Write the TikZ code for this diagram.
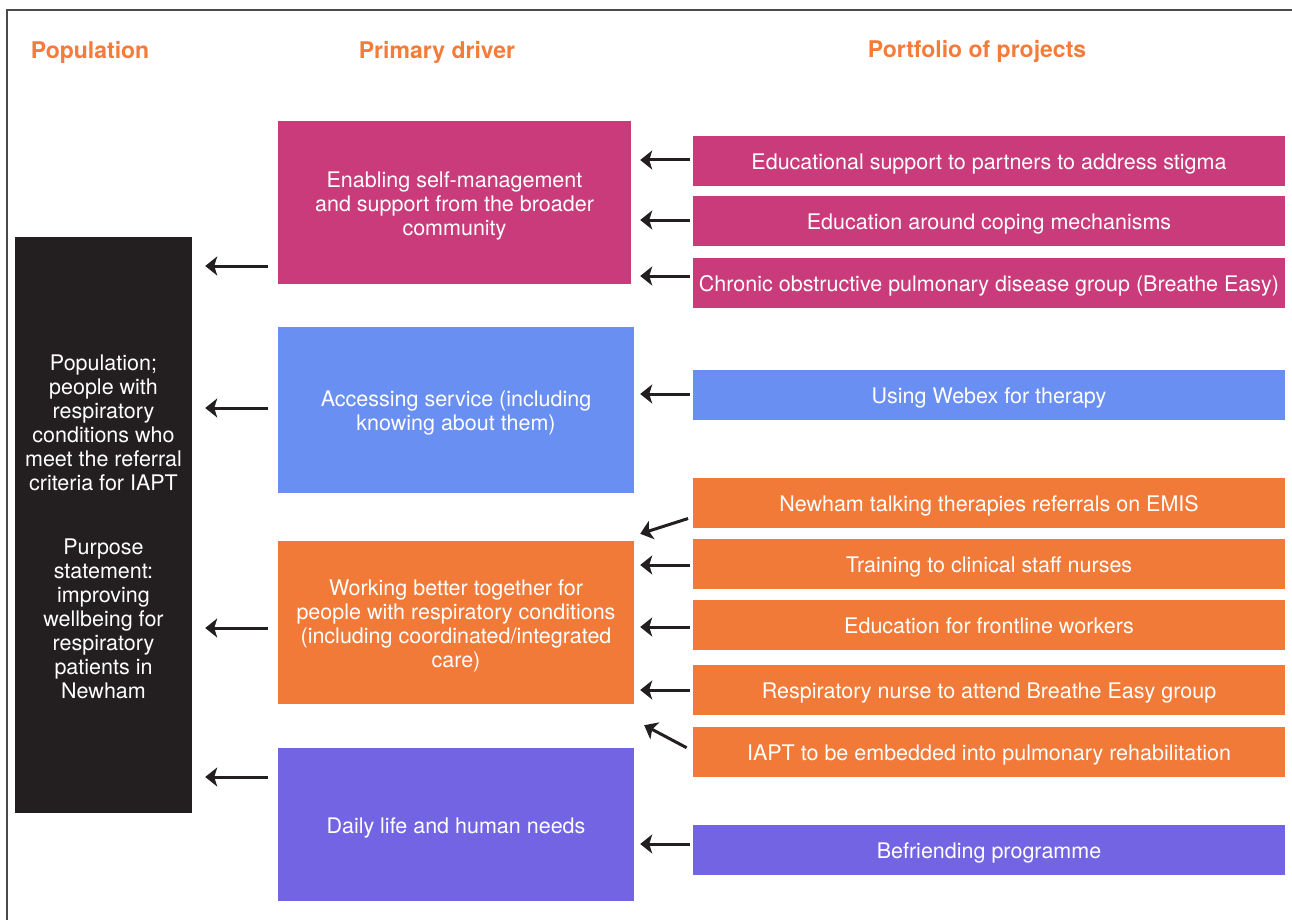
\documentclass[tikz,border=0pt]{standalone}
\usepackage{fontspec}
\setmainfont{TeX Gyre Heros}
\usetikzlibrary{arrows.meta}
\definecolor{magbox}{HTML}{C93B7B}
\definecolor{bluebox}{HTML}{6A8FF2}
\definecolor{orangebox}{HTML}{F27A38}
\definecolor{purplebox}{HTML}{7364E4}
\definecolor{darkbox}{HTML}{231F20}
\definecolor{headorange}{HTML}{F47B3A}
\definecolor{framegray}{HTML}{4A4A4A}
% strut for the first line of a multi-line label
\newcommand\firstline[1]{\rule{0pt}{#1}}
\begin{document}
\begin{tikzpicture}[x=1pt,y=-1pt,
  txt/.style={font=\fontsize{21.5}{24}\selectfont},
  head/.style={text=headorange, font=\fontsize{23}{27}\selectfont\bfseries, inner sep=0pt},
  % struts fix the height of the first line and the depth of the last one,
  % so that the text block sits optically centred in its box
  box/.style={rectangle, inner sep=0pt, text=white, align=center, txt,
    execute at begin node={\rule{0pt}{22pt}},
    execute at end node={\rule[-5pt]{0pt}{5pt}}},
  driver/.style={box, minimum width=356pt},
  project/.style={box, minimum width=592pt, minimum height=50pt},
  arr/.style={draw=darkbox, line width=3pt,
    -{Stealth[length=12pt,width=19pt,inset=3pt]}}]
\useasboundingbox (0,0) rectangle (1292,920);

% frame edges
\draw[framegray, line width=1.4pt] (7,920) -- (7,10) -- (1292,10);

% column headings
\node[head] (hpop) at (90,52) {Population};
\node[head] (hdrv) at (437,52) {Primary driver};
\node[head] (hprj) at (977,51) {Portfolio of projects};

% population / purpose
\node[box, fill=darkbox, minimum width=177pt, minimum height=576pt] (pop) at (103.5,525)
  {\firstline{23.5pt}Population;\\people with\\respiratory\\conditions who\\meet the referral\\criteria for IAPT\\[40pt]
   Purpose\\statement:\\improving\\wellbeing for\\respiratory\\patients in\\Newham};

% primary drivers
\node[driver, fill=magbox, minimum width=353pt, minimum height=163pt] (dmag) at (454.5,202.5)
  {\firstline{23.5pt}Enabling self-management\\and support from the broader\\community};
\node[driver, fill=bluebox, minimum height=166pt] (dblue) at (456,410)
  {\firstline{22pt}Accessing service (including\\knowing about them)};
\node[driver, fill=orangebox, minimum height=163pt] (dorange) at (456,622.5)
  {\firstline{22.5pt}Working better together for\\people with respiratory conditions\\(including coordinated/integrated\\care)};
\node[driver, fill=purplebox, minimum height=153pt] (dpurple) at (456,824.5)
  {Daily life and human needs};

% projects
\node[project, fill=magbox] (m1) at (989,161) {Educational support to partners to address stigma};
\node[project, fill=magbox] (m2) at (989,221) {Education around coping mechanisms};
\node[project, fill=magbox] (m3) at (989,283) {Chronic obstructive pulmonary disease group (Breathe Easy)};
\node[project, fill=bluebox] (b1) at (989,395) {Using Webex for therapy};
\node[project, fill=orangebox] (o1) at (989,503) {Newham talking therapies referrals on EMIS};
\node[project, fill=orangebox] (o2) at (989,563.5) {Training to clinical staff nurses};
\node[project, fill=orangebox] (o3) at (989,625) {Education for frontline workers};
\node[project, fill=orangebox] (o4) at (989,690) {Respiratory nurse to attend Breathe Easy group};
\node[project, fill=orangebox] (o5) at (989,752) {IAPT to be embedded into pulmonary rehabilitation};
\node[project, fill=purplebox] (u1) at (989,850) {Befriending programme};

% arrow attachment points on the driver boxes
\coordinate (dmagw)    at ([yshift=-63.5pt]dmag.west);
\coordinate (dbluew)   at ([yshift=2pt]dblue.west);
\coordinate (dorangew) at ([yshift=-5.5pt]dorange.west);
\coordinate (dpurplew) at ([yshift=47.5pt]dpurple.west);

% drivers to population
\draw[arr, shorten <=10pt, shorten >=13pt] (dmagw) -- (pop.east |- dmagw);
\draw[arr, shorten <=10pt, shorten >=13pt] (dbluew) -- (pop.east |- dbluew);
\draw[arr, shorten <=10pt, shorten >=13pt] (dorangew) -- (pop.east |- dorangew);
\draw[arr, shorten <=10pt, shorten >=13pt] (dpurplew) -- (pop.east |- dpurplew);

% arrow attachment points on the project boxes
\coordinate (m1w) at ([yshift=1pt]m1.west);
\coordinate (m2w) at ([yshift=1pt]m2.west);
\coordinate (m3w) at ([yshift=7pt]m3.west);
\coordinate (b1w) at ([yshift=1pt]b1.west);
\coordinate (o1w) at ([yshift=-14pt]o1.west);
\coordinate (o2w) at ([yshift=-1.5pt]o2.west);
\coordinate (o3w) at ([yshift=-2pt]o3.west);
\coordinate (o4w) at (o4.west);
\coordinate (o5w) at ([yshift=1pt]o5.west);
\coordinate (u1w) at ([yshift=6pt]u1.west);
\coordinate (o1tip) at ([xshift=6pt,yshift=7pt]dorange.north east);
\coordinate (o5tip) at ([xshift=10pt,yshift=-21pt]dorange.south east);

% projects to drivers
\draw[arr, shorten <=3pt, shorten >=9pt] (m1w) -- (dmag.east |- m1w);
\draw[arr, shorten <=3pt, shorten >=9pt] (m2w) -- (dmag.east |- m2w);
\draw[arr, shorten <=3pt, shorten >=9pt] (m3w) -- (dmag.east |- m3w);
\draw[arr, shorten <=3pt, shorten >=6pt] (b1w) -- (dblue.east |- b1w);
\draw[arr, shorten <=5pt] (o1w) -- (o1tip);
\draw[arr, shorten <=3pt, shorten >=6pt] (o2w) -- (dorange.east |- o2w);
\draw[arr, shorten <=3pt, shorten >=6pt] (o3w) -- (dorange.east |- o3w);
\draw[arr, shorten <=3pt, shorten >=6pt] (o4w) -- (dorange.east |- o4w);
\draw[arr, shorten <=7pt] (o5w) -- (o5tip);
\draw[arr, shorten <=3pt, shorten >=6pt] (u1w) -- (dpurple.east |- u1w);
\end{tikzpicture}
\end{document}
